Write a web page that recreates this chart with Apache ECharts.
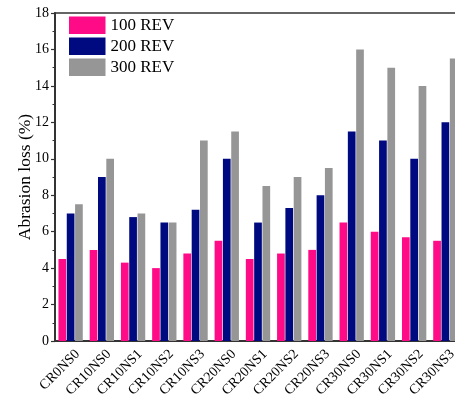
<!DOCTYPE html>
<html>
<head>
<meta charset="utf-8">
<script src="https://cdn.jsdelivr.net/npm/echarts@6/dist/echarts.min.js"></script>
<style>
  html, body { margin: 0; padding: 0; background: #fff; }
  #chart { width: 455px; height: 399px; }
</style>
</head>
<body>
<div id="chart"></div>
<script>
// Mix designations along the x axis
const categories = ['CR0NS0', 'CR10NS0', 'CR10NS1', 'CR10NS2', 'CR10NS3', 'CR20NS0', 'CR20NS1',
                    'CR20NS2', 'CR20NS3', 'CR30NS0', 'CR30NS1', 'CR30NS2', 'CR30NS3'];
// Abrasion loss (%) after each number of revolutions
const rev100 = [4.5, 5.0, 4.3, 4.0, 4.8, 5.5, 4.5, 4.8, 5.0, 6.5, 6.0, 5.7, 5.5];
const rev200 = [7.0, 9.0, 6.8, 6.5, 7.2, 10.0, 6.5, 7.3, 8.0, 11.5, 11.0, 10.0, 12.0];
const rev300 = [7.5, 10.0, 7.0, 6.5, 11.0, 11.5, 8.5, 9.0, 9.5, 16.0, 15.0, 14.0, 15.5];
const seriesNames = ['100 REV', '200 REV', '300 REV'];
const yTicks = [0, 2, 4, 6, 8, 10, 12, 14, 16, 18];

const FONT = '"Liberation Serif", "Times New Roman", serif';
const AXIS = '#333';
const colors = ['#ff0a87', '#000a80', '#969696'];

const chart = echarts.init(document.getElementById('chart'));

const bar = (name, data, color) => ({
  name: name,
  type: 'bar',
  data: data,
  barWidth: 7.7,
  barGap: '8%',
  itemStyle: { color: color },
  z: 2
});

chart.setOption({
  animation: false,
  textStyle: { fontFamily: FONT },
  grid: {
    left: 55, right: -6, top: 13, bottom: 58,
    containLabel: false, outerBoundsMode: 'none',
    show: true, borderColor: AXIS, borderWidth: 1.5, backgroundColor: 'transparent'
  },
  legend: {
    left: 69, top: 16.5,
    padding: 0,
    orient: 'vertical',
    itemWidth: 36.5, itemHeight: 17.5, itemGap: 3.5,
    icon: 'rect',
    textStyle: { fontFamily: FONT, fontSize: 17, color: '#000' },
    data: seriesNames
  },
  xAxis: {
    type: 'category',
    data: categories,
    axisLine: { lineStyle: { color: AXIS, width: 2 } },
    axisTick: { inside: true, length: 3, lineStyle: { color: AXIS, width: 1.2 } },
    axisLabel: {
      rotate: 45, fontFamily: FONT, fontSize: 14, color: '#000',
      margin: 4, interval: 0, verticalAlign: 'top', padding: [3, 0, 0, 0]
    },
    splitLine: { show: false }
  },
  yAxis: {
    type: 'value',
    min: yTicks[0], max: yTicks[yTicks.length - 1], interval: 2,
    name: 'Abrasion loss (%)',
    nameLocation: 'middle', nameGap: 21, nameRotate: 90, nameMoveOverlap: false,
    nameTextStyle: { fontFamily: FONT, fontSize: 17.5, color: '#000' },
    axisLine: { show: true, lineStyle: { color: AXIS, width: 2 } },
    axisTick: { show: true, length: 4, lineStyle: { color: AXIS, width: 1.2 } },
    minorTick: { show: true, splitNumber: 2, length: 2.5, lineStyle: { color: AXIS, width: 1 } },
    axisLabel: { fontFamily: FONT, fontSize: 14, color: '#000', margin: 6 },
    splitLine: { show: false }
  },
  series: [
    bar(seriesNames[0], rev100, colors[0]),
    bar(seriesNames[1], rev200, colors[1]),
    bar(seriesNames[2], rev300, colors[2])
  ]
});
</script>
</body>
</html>
